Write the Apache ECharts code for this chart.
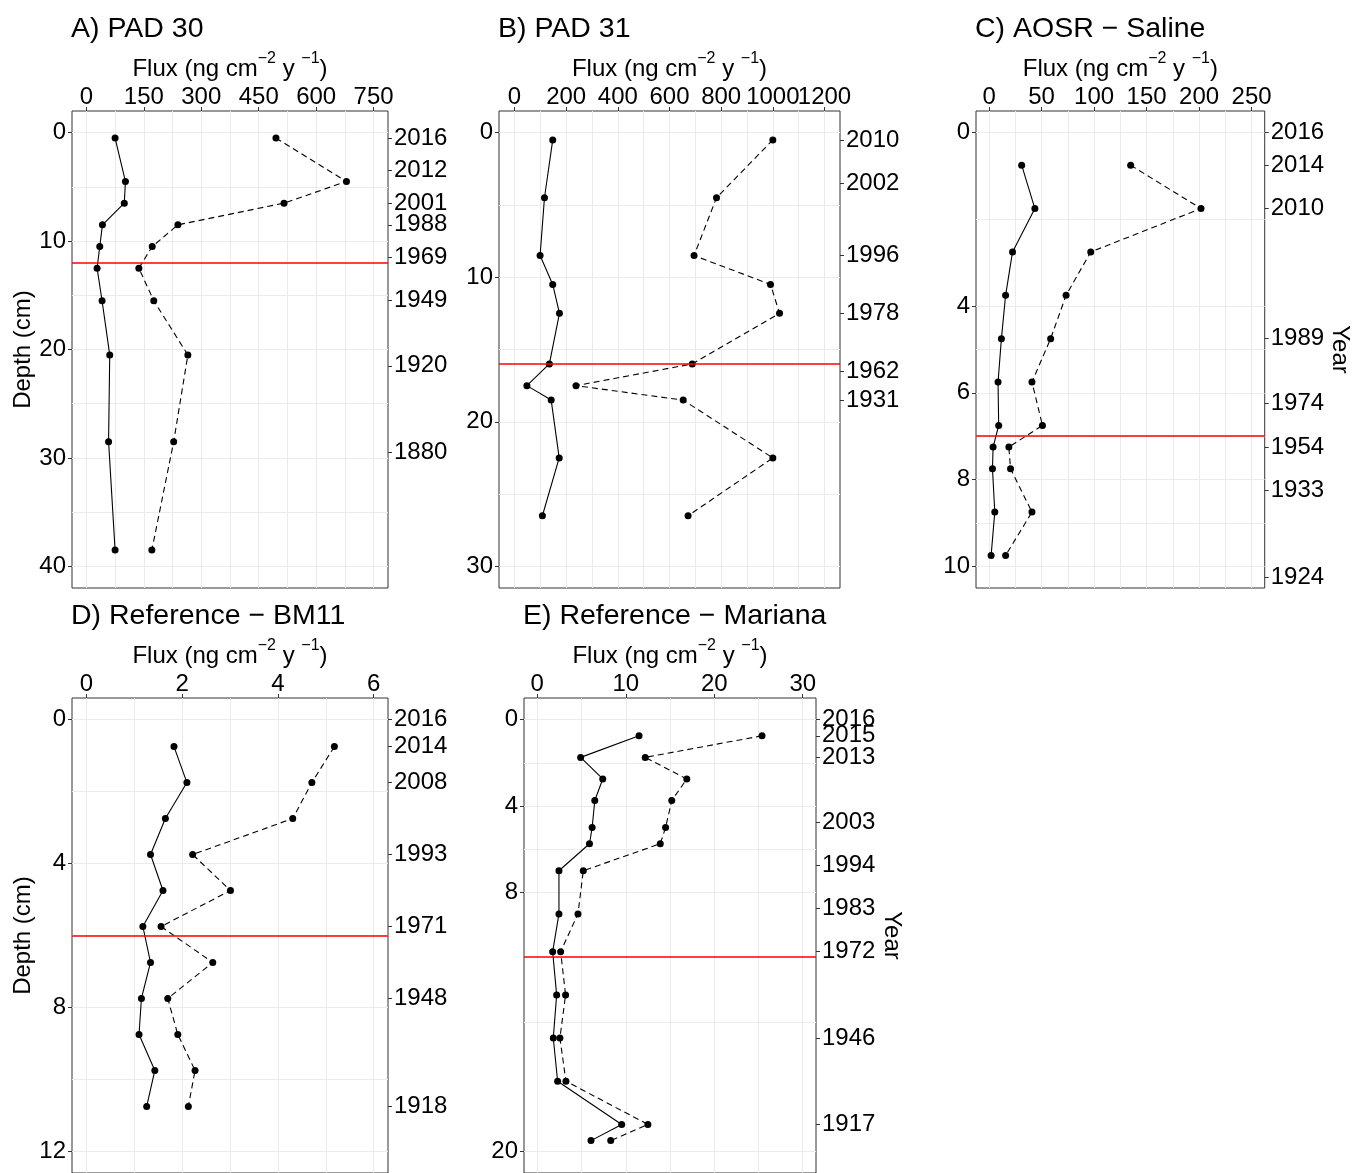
<!DOCTYPE html>
<html>
<head>
<meta charset="utf-8">
<script src="https://cdn.jsdelivr.net/npm/echarts@6/dist/echarts.min.js"></script>
<style>
  html, body { margin: 0; padding: 0; background: #ffffff; }
  #chart { width: 1353px; height: 1173px; }
</style>
</head>
<body>
<div id="chart"></div>
<script>
// ---- Core profiles: depth (cm) and two flux series (ng cm-2 y-1) ----

// A) PAD 30
const depthA  = [0.5, 4.5, 6.5, 8.5, 10.5, 12.5, 15.5, 20.5, 28.5, 38.5];
const solidA  = [75, 102, 99, 42, 35, 28, 41, 61, 58, 75];
const dashedA = [495, 679, 516, 239, 172, 137, 176, 265, 228, 171];
const yearDepthA = [0.5, 3.5, 6.5, 8.5, 11.5, 15.5, 21.5, 29.5];
const yearLabelA = ['2016', '2012', '2001', '1988', '1969', '1949', '1920', '1880'];
const markerDepthA = 12;

// B) PAD 31
const depthB  = [0.5, 4.5, 8.5, 10.5, 12.5, 16, 17.5, 18.5, 22.5, 26.5];
const solidB  = [148, 116, 99, 148, 174, 135, 48, 142, 173, 108];
const dashedB = [1000, 782, 695, 991, 1026, 688, 238, 653, 1000, 672];
const yearDepthB = [0.5, 3.5, 8.5, 12.5, 16.5, 18.5];
const yearLabelB = ['2010', '2002', '1996', '1978', '1962', '1931'];
const markerDepthB = 16;

// C) AOSR − Saline
const depthC  = [0.75, 1.75, 2.75, 3.75, 4.75, 5.75, 6.75, 7.25, 7.75, 8.75, 9.75];
const solidC  = [31, 43.6, 22.3, 15.7, 11.7, 8.5, 9.1, 3.8, 3.2, 5.4, 1.9];
const dashedC = [134.8, 201.8, 96.8, 73.3, 58.6, 40.8, 50.8, 18.8, 20.4, 40.8, 15.7];
const yearDepthC = [0, 0.75, 1.75, 4.75, 6.25, 7.25, 8.25, 10.25];
const yearLabelC = ['2016', '2014', '2010', '1989', '1974', '1954', '1933', '1924'];
const markerDepthC = 7;

// D) Reference − BM11
const depthD  = [0.75, 1.75, 2.75, 3.75, 4.75, 5.75, 6.75, 7.75, 8.75, 9.75, 10.75];
const solidD  = [1.83, 2.10, 1.65, 1.34, 1.60, 1.18, 1.34, 1.15, 1.10, 1.43, 1.26];
const dashedD = [5.18, 4.71, 4.31, 2.22, 3.01, 1.56, 2.64, 1.70, 1.91, 2.27, 2.13];
const yearDepthD = [0, 0.75, 1.75, 3.75, 5.75, 7.75, 10.75];
const yearLabelD = ['2016', '2014', '2008', '1993', '1971', '1948', '1918'];
const markerDepthD = 6;

// E) Reference − Mariana
const depthE  = [0.75, 1.75, 2.75, 3.75, 5, 5.75, 7, 9, 10.75, 12.75, 14.75, 16.75, 18.75, 19.5];
const solidE  = [11.5, 4.9, 7.4, 6.5, 6.2, 5.9, 2.45, 2.45, 1.74, 2.19, 1.81, 2.3, 9.54, 6.07];
const dashedE = [25.4, 12.2, 16.9, 15.2, 14.5, 13.9, 5.2, 4.6, 2.64, 3.2, 2.56, 3.24, 12.5, 8.3];
const yearDepthE = [0, 0.75, 1.75, 4.75, 6.75, 8.75, 10.75, 14.75, 18.75];
const yearLabelE = ['2016', '2015', '2013', '2003', '1994', '1983', '1972', '1946', '1917'];
const markerDepthE = 11;

// Axis ticks (labelled) and grid lines (labelled + minor)
const fluxTicksA = [0, 150, 300, 450, 600, 750];
const fluxGridA  = [0, 75, 150, 225, 300, 375, 450, 525, 600, 675, 750];
const depthTicksA = [0, 10, 20, 30, 40];
const depthGridA  = [0, 5, 10, 15, 20, 25, 30, 35, 40];

const fluxTicksB = [0, 200, 400, 600, 800, 1000, 1200];
const fluxGridB  = [0, 100, 200, 300, 400, 500, 600, 700, 800, 900, 1000, 1100, 1200];
const depthTicksB = [0, 10, 20, 30];
const depthGridB  = [0, 5, 10, 15, 20, 25, 30];

const fluxTicksC = [0, 50, 100, 150, 200, 250];
const fluxGridC  = [0, 25, 50, 75, 100, 125, 150, 175, 200, 225, 250];
const depthTicksC = [0, 4, 6, 8, 10];
const depthGridC  = [0, 2, 4, 5, 6, 7, 8, 9, 10];

const fluxTicksD = [0, 2, 4, 6];
const fluxGridD  = [0, 1, 2, 3, 4, 5, 6];
const depthTicksD = [0, 4, 8, 12];
const depthGridD  = [0, 2, 4, 6, 8, 10, 12];

const fluxTicksE = [0, 10, 20, 30];
const fluxGridE  = [0, 5, 10, 15, 20, 25, 30];
const depthTicksE = [0, 4, 8, 20];
const depthGridE  = [0, 2, 4, 6, 8, 14, 20];

// ---- Panel layout ----
const FONT = '"Liberation Sans", Arial, Helvetica, sans-serif';

const panels = [
  { title: 'A) PAD 30', depth: depthA, solid: solidA, dashed: dashedA,
    yearDepth: yearDepthA, yearLabel: yearLabelA, marker: markerDepthA,
    fluxTicks: fluxTicksA, fluxGrid: fluxGridA, depthTicks: depthTicksA, depthGrid: depthGridA,
    xMin: -37.5, xMax: 787.5, yMin: -2, yMax: 42,
    box: { left: 72, top: 111, width: 316, height: 477 }, depthName: true, yearName: false },
  { title: 'B) PAD 31', depth: depthB, solid: solidB, dashed: dashedB,
    yearDepth: yearDepthB, yearLabel: yearLabelB, marker: markerDepthB,
    fluxTicks: fluxTicksB, fluxGrid: fluxGridB, depthTicks: depthTicksB, depthGrid: depthGridB,
    xMin: -60, xMax: 1260, yMin: -1.5, yMax: 31.5,
    box: { left: 499, top: 111, width: 341, height: 477 }, depthName: false, yearName: false },
  { title: 'C) AOSR \u2212 Saline', depth: depthC, solid: solidC, dashed: dashedC,
    yearDepth: yearDepthC, yearLabel: yearLabelC, marker: markerDepthC,
    fluxTicks: fluxTicksC, fluxGrid: fluxGridC, depthTicks: depthTicksC, depthGrid: depthGridC,
    xMin: -12.5, xMax: 262.5, yMin: -0.5, yMax: 10.5,
    box: { left: 976, top: 111, width: 292, height: 477 }, depthName: false, yearName: true },
  { title: 'D) Reference \u2212 BM11', depth: depthD, solid: solidD, dashed: dashedD,
    yearDepth: yearDepthD, yearLabel: yearLabelD, marker: markerDepthD,
    fluxTicks: fluxTicksD, fluxGrid: fluxGridD, depthTicks: depthTicksD, depthGrid: depthGridD,
    xMin: -0.3, xMax: 6.3, yMin: -0.6, yMax: 12.6,
    box: { left: 72, top: 698, width: 316, height: 475 }, depthName: true, yearName: false },
  { title: 'E) Reference \u2212 Mariana', depth: depthE, solid: solidE, dashed: dashedE,
    yearDepth: yearDepthE, yearLabel: yearLabelE, marker: markerDepthE,
    fluxTicks: fluxTicksE, fluxGrid: fluxGridE, depthTicks: depthTicksE, depthGrid: depthGridE,
    xMin: -1.5, xMax: 31.5, yMin: -1, yMax: 21,
    box: { left: 524, top: 698, width: 292, height: 477 }, depthName: false, yearName: true }
];

const fluxName = '{t|Flux (ng cm}{s|\u22122}{t| y }{s|\u22121}{t|)}';
const fluxRich = {
  t: { fontSize: 24, fontFamily: FONT, color: '#000', lineHeight: 30, verticalAlign: 'bottom' },
  s: { fontSize: 16, fontFamily: FONT, color: '#000', lineHeight: 30, verticalAlign: 'top' }
};

const grids = [], xAxes = [], yAxes = [], series = [], titles = [];

const labelStyle = {
  color: '#000', fontSize: 24, fontFamily: FONT,
  hideOverlap: false, showMinLabel: true, showMaxLabel: true
};
const tickStyle = { show: true, length: 4, lineStyle: { color: '#333', width: 1 } };
const gridLine = { show: true, lineStyle: { color: '#ebebeb', width: 1 } };
const noLine = { show: false, onZero: false };

// Tick labels that sit close together are spread over two overlaid axes
// (alternating), so that neighbouring labels are never dropped.
const evenItems = arr => arr.filter((_, k) => k % 2 === 0);
const oddItems  = arr => arr.filter((_, k) => k % 2 === 1);

panels.forEach((p, i) => {
  grids.push(Object.assign({ show: true, borderColor: '#333', borderWidth: 1, backgroundColor: 'transparent' }, p.box));

  titles.push({
    text: p.title, left: p.box.left - 1, top: p.box.top - 96, padding: 0,
    textStyle: { fontSize: 28.5, fontWeight: 'normal', fontFamily: FONT, color: '#000' }
  });

  // flux axes on top (two overlaid, alternating labels)
  [evenItems(p.fluxTicks), oddItems(p.fluxTicks)].forEach((vals, j) => {
    xAxes.push({
      type: 'value', gridIndex: i, position: 'top', min: p.xMin, max: p.xMax,
      axisLine: noLine,
      axisTick: Object.assign({ customValues: vals }, tickStyle),
      axisLabel: Object.assign({ customValues: vals, margin: 2, formatter: v => String(v) }, labelStyle),
      splitLine: { show: false },
      name: j === 0 ? fluxName : '', nameLocation: 'middle', nameGap: 30,
      nameTextStyle: { rich: fluxRich }
    });
  });
  // vertical grid lines
  xAxes.push({
    type: 'value', gridIndex: i, position: 'bottom', min: p.xMin, max: p.xMax,
    axisLine: noLine, axisLabel: { show: false },
    axisTick: { show: false, customValues: p.fluxGrid },
    splitLine: gridLine
  });

  // depth axis (left)
  yAxes.push({
    type: 'value', gridIndex: i, position: 'left', inverse: true, min: p.yMin, max: p.yMax,
    axisLine: noLine,
    axisTick: Object.assign({ customValues: p.depthTicks }, tickStyle),
    axisLabel: Object.assign({ customValues: p.depthTicks, margin: 6, formatter: v => String(v) }, labelStyle),
    splitLine: { show: false },
    name: p.depthName ? 'Depth (cm)' : '', nameLocation: 'middle', nameGap: 37, nameRotate: 90,
    nameTextStyle: { fontSize: 24, fontFamily: FONT, color: '#000' }
  });
  // horizontal grid lines
  yAxes.push({
    type: 'value', gridIndex: i, position: 'left', inverse: true, min: p.yMin, max: p.yMax,
    axisLine: noLine, axisLabel: { show: false },
    axisTick: { show: false, customValues: p.depthGrid },
    splitLine: gridLine
  });
  // year axes (right, two overlaid, alternating labels)
  const yd = p.yearDepth, yl = p.yearLabel;
  const yearOf = function (v) {
    for (let k = 0; k < yd.length; k++) { if (Math.abs(yd[k] - v) < 1e-6) return yl[k]; }
    return '';
  };
  [evenItems(yd), oddItems(yd)].forEach((vals, j) => {
    yAxes.push({
      type: 'value', gridIndex: i, position: 'right', inverse: true, min: p.yMin, max: p.yMax,
      axisLine: noLine,
      axisTick: Object.assign({ customValues: vals }, tickStyle),
      axisLabel: Object.assign({ customValues: vals, margin: 6, formatter: yearOf }, labelStyle),
      splitLine: { show: false },
      name: (p.yearName && j === 0) ? 'Year' : '', nameLocation: 'middle', nameGap: 58, nameRotate: -90,
      nameTextStyle: { fontSize: 24, fontFamily: FONT, color: '#000' }
    });
  });

  const solidData = p.depth.map((d, k) => [p.solid[k], d]);
  const dashedData = p.depth.map((d, k) => [p.dashed[k], d]);

  series.push({
    type: 'line', xAxisIndex: 3 * i, yAxisIndex: 4 * i, data: solidData,
    symbol: 'circle', symbolSize: 7, showSymbol: true,
    itemStyle: { color: '#000' }, lineStyle: { color: '#000', width: 1.1, type: 'solid' },
    animation: false, silent: true, z: 3,
    markLine: {
      silent: true, symbol: ['none', 'none'], animation: false,
      label: { show: false },
      lineStyle: { color: '#ff0000', width: 1.5, type: 'solid' },
      data: [{ yAxis: p.marker }]
    }
  });
  series.push({
    type: 'line', xAxisIndex: 3 * i, yAxisIndex: 4 * i, data: dashedData,
    symbol: 'circle', symbolSize: 7, showSymbol: true,
    itemStyle: { color: '#000' }, lineStyle: { color: '#000', width: 1.1, type: [6, 4] },
    animation: false, silent: true, z: 3
  });
});

const chart = echarts.init(document.getElementById('chart'), null, { renderer: 'canvas' });
chart.setOption({
  backgroundColor: '#ffffff',
  animation: false,
  title: titles,
  grid: grids,
  xAxis: xAxes,
  yAxis: yAxes,
  series: series
});
</script>
</body>
</html>
